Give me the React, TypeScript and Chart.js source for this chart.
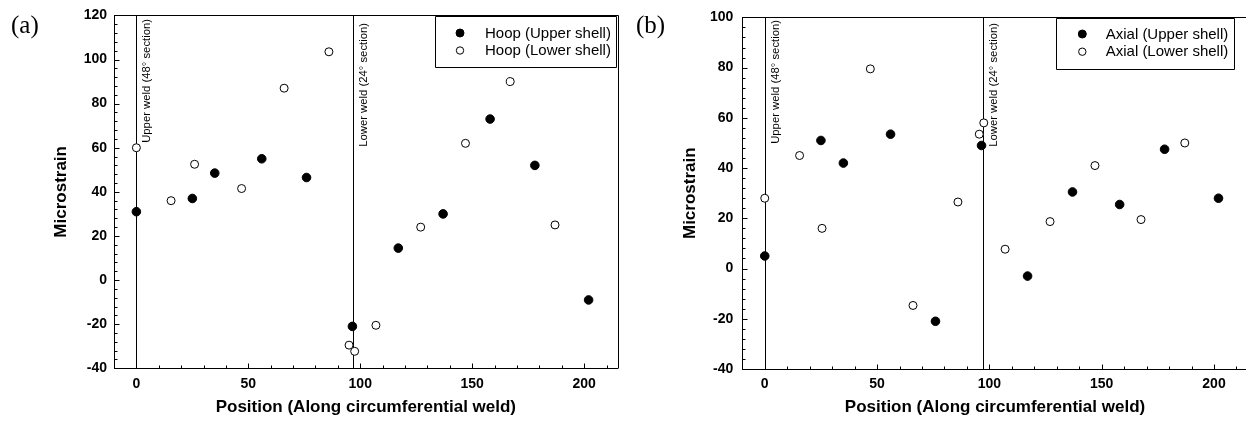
import React, { useEffect, useRef } from 'react';
import { Chart, registerables } from 'chart.js';

Chart.register(...registerables);

// ---------- Data: panel (a) Hoop ----------
const hoopUpperX = [0, 25, 35, 56, 76, 96.5, 117, 137, 158, 178, 202];
const hoopUpperY = [31, 37, 48.5, 55, 46.5, -21, 14.5, 30, 73, 52, -9];
const hoopLowerX = [0, 15.5, 26, 47, 66, 86, 95, 97.5, 107, 127, 147, 167, 187];
const hoopLowerY = [60, 36, 52.5, 41.5, 87, 103.5, -29.5, -32.3, -20.5, 24, 62, 90, 25];
const hoopLabels = ['Hoop (Upper shell)', 'Hoop (Lower shell)'];

// ---------- Data: panel (b) Axial ----------
const axialUpperX = [0, 25, 35, 56, 76, 96.5, 117, 137, 158, 178, 202];
const axialUpperY = [5, 51, 42, 53.5, -21, 49, -3, 30.5, 25.5, 47.5, 28];
const axialLowerX = [0, 15.5, 25.5, 47, 66, 86, 95.5, 97.5, 107, 127, 147, 167.5, 187];
const axialLowerY = [28, 45, 16, 79.5, -14.7, 26.5, 53.5, 58, 7.7, 18.7, 41, 19.5, 50];
const axialLabels = ['Axial (Upper shell)', 'Axial (Lower shell)'];

// ---------- Weld reference lines ----------
const weldPositionsA = [0, 96.6];
const weldPositionsB = [0, 97.2];
const weldLabels = ['Upper weld (48\u00b0 section)', 'Lower weld (24\u00b0 section)'];

// ---------- Axis ranges / ticks ----------
const xRange = [-10, 215];
const yRangeA = [-40, 120];
const yRangeB = [-40, 100];
const xTickValues = [0, 50, 100, 150, 200];
const xMajorStep = 50;
const xMinorStep = 10;
const yMajorStep = 20;
const yMinorStep = 4;

const xTitle = 'Position (Along circumferential weld)';
const yTitle = 'Microstrain';

const FONT = '"Liberation Sans", Arial, Helvetica, sans-serif';

const isMultiple = (v: number, step: number) =>
  Math.abs(v / step - Math.round(v / step)) < 1e-6;

const px = (v: number) => Math.round(v) + 0.5;

const decorPlugin = {
  id: 'decor',
  beforeDatasetsDraw(chart: any, _args: any, opts: any) {
    const { ctx, chartArea: ca, scales } = chart;
    const x = scales.x;
    ctx.save();
    ctx.strokeStyle = '#000';
    ctx.lineWidth = 1;
    (opts.welds || []).forEach((w: number, i: number) => {
      const p = px(x.getPixelForValue(w));
      ctx.beginPath();
      ctx.moveTo(p, ca.top);
      ctx.lineTo(p, ca.bottom);
      ctx.stroke();
      const label = (opts.weldLabels || [])[i];
      if (label) {
        ctx.save();
        ctx.translate(p + opts.weldLabelOffset, opts.weldLabelTops[i]);
        ctx.rotate(-Math.PI / 2);
        ctx.font = `11.3px ${FONT}`;
        ctx.fillStyle = '#000';
        ctx.textAlign = 'right';
        ctx.textBaseline = 'top';
        ctx.fillText(label, 0, 0);
        ctx.restore();
      }
    });
    ctx.restore();
  },
  afterDraw(chart: any, _args: any, opts: any) {
    const { ctx, chartArea: ca, scales } = chart;
    const x = scales.x;
    const y = scales.y;
    ctx.save();
    ctx.strokeStyle = '#000';
    ctx.lineWidth = 1;
    // frame (top + right)
    ctx.beginPath();
    ctx.moveTo(px(ca.left), px(ca.top));
    ctx.lineTo(px(ca.right), px(ca.top));
    ctx.lineTo(px(ca.right), px(ca.bottom));
    ctx.stroke();
    // inward ticks
    ctx.beginPath();
    const xb = px(ca.bottom);
    for (let v = Math.ceil(x.min / xMinorStep) * xMinorStep; v <= x.max + 1e-9; v += xMinorStep) {
      const len = isMultiple(v, xMajorStep) ? 5 : 3;
      const p = px(x.getPixelForValue(v));
      ctx.moveTo(p, xb);
      ctx.lineTo(p, xb - len);
    }
    const yl = px(ca.left);
    for (let v = Math.ceil(y.min / yMinorStep) * yMinorStep; v <= y.max + 1e-9; v += yMinorStep) {
      const len = isMultiple(v, yMajorStep) ? 5 : 3;
      const p = px(y.getPixelForValue(v));
      ctx.moveTo(yl, p);
      ctx.lineTo(yl + len, p);
    }
    ctx.stroke();

    // legend box
    const lg = opts.legend;
    if (lg) {
      ctx.beginPath();
      ctx.rect(px(lg.x), px(lg.y), Math.round(lg.w), Math.round(lg.h));
      ctx.stroke();
      chart.data.datasets.forEach((ds: any, i: number) => {
        const ry = lg.rowY[i];
        ctx.beginPath();
        ctx.arc(lg.markerX, ry, ds.pointRadius - 0.3, 0, Math.PI * 2);
        ctx.fillStyle = ds.pointBackgroundColor;
        ctx.fill();
        ctx.lineWidth = 1;
        ctx.strokeStyle = '#000';
        ctx.stroke();
        ctx.fillStyle = '#000';
        ctx.font = `15px ${FONT}`;
        ctx.textAlign = 'left';
        ctx.textBaseline = 'middle';
        ctx.fillText(ds.label, lg.textX, ry + 0.5);
      });
    }
    ctx.restore();
  },
};

interface PanelSpec {
  width: number;
  height: number;
  upperX: number[];
  upperY: number[];
  lowerX: number[];
  lowerY: number[];
  labels: string[];
  welds: number[];
  weldLabelTops: number[];
  yRange: number[];
  yAxisWidth: number;
  xAxisHeight: number;
  padRight: number;
  padTop: number;
  yTitlePad: number;
  yTickPad: number;
  xTickPad: number;
  legend: any;
}

function buildConfig(p: PanelSpec): any {
  const tickFont = { family: FONT, size: 14, weight: 'bold' as const };
  const titleFont = { family: FONT, size: 17, weight: 'bold' as const };
  return {
    type: 'scatter',
    data: {
      datasets: [
        {
          label: p.labels[0],
          data: p.upperX.map((x, i) => ({ x, y: p.upperY[i] })),
          pointRadius: 4.3,
          pointHoverRadius: 4.3,
          pointBackgroundColor: '#000000',
          pointBorderColor: '#000000',
          pointBorderWidth: 1,
        },
        {
          label: p.labels[1],
          data: p.lowerX.map((x, i) => ({ x, y: p.lowerY[i] })),
          pointRadius: 4,
          pointHoverRadius: 4,
          pointBackgroundColor: '#ffffff',
          pointBorderColor: '#000000',
          pointBorderWidth: 1,
        },
      ],
    },
    options: {
      animation: false,
      responsive: false,
      maintainAspectRatio: false,
      events: [],
      layout: { padding: { left: 0, right: p.padRight, top: p.padTop, bottom: 0 } },
      plugins: {
        legend: { display: false },
        tooltip: { enabled: false },
        decor: {
          welds: p.welds,
          weldLabels,
          weldLabelOffset: 5,
          weldLabelTops: p.weldLabelTops,
          legend: p.legend,
        },
      },
      scales: {
        x: {
          type: 'linear',
          min: xRange[0],
          max: xRange[1],
          grid: { display: false, drawTicks: false },
          border: { display: true, color: '#000', width: 1 },
          ticks: {
            font: tickFont,
            color: '#000',
            padding: p.xTickPad,
            maxRotation: 0,
            autoSkip: false,
          },
          afterBuildTicks: (s: any) => {
            s.ticks = xTickValues.map((v) => ({ value: v }));
          },
          afterFit: (s: any) => {
            s.height = p.xAxisHeight;
          },
          title: {
            display: true,
            text: xTitle,
            font: titleFont,
            color: '#000',
            padding: { top: 0, bottom: 9.5 },
          },
        },
        y: {
          type: 'linear',
          min: p.yRange[0],
          max: p.yRange[1],
          grid: { display: false, drawTicks: false },
          border: { display: true, color: '#000', width: 1 },
          ticks: {
            stepSize: yMajorStep,
            font: tickFont,
            color: '#000',
            padding: p.yTickPad,
            autoSkip: false,
          },
          afterFit: (s: any) => {
            s.width = p.yAxisWidth;
          },
          title: {
            display: true,
            text: yTitle,
            font: titleFont,
            color: '#000',
            padding: { top: p.yTitlePad, bottom: 0 },
          },
        },
      },
    },
    plugins: [decorPlugin],
  };
}

const panelA: PanelSpec = {
  width: 623,
  height: 427,
  upperX: hoopUpperX,
  upperY: hoopUpperY,
  lowerX: hoopLowerX,
  lowerY: hoopLowerY,
  labels: hoopLabels,
  welds: weldPositionsA,
  weldLabelTops: [19, 23],
  yRange: yRangeA,
  yAxisWidth: 114,
  xAxisHeight: 58.7,
  padRight: 3,
  padTop: 13,
  yTitlePad: 51.5,
  yTickPad: 7,
  xTickPad: 7.5,
  legend: { x: 435, y: 15.5, w: 181, h: 51, markerX: 460, rowY: [33, 50.5], textX: 485 },
};

const panelB: PanelSpec = {
  width: 630,
  height: 427,
  upperX: axialUpperX,
  upperY: axialUpperY,
  lowerX: axialLowerX,
  lowerY: axialLowerY,
  labels: axialLabels,
  welds: weldPositionsB,
  weldLabelTops: [20, 23],
  yRange: yRangeB,
  yAxisWidth: 119.3,
  xAxisHeight: 58,
  padRight: 4,
  padTop: 13,
  yTitlePad: 57,
  yTickPad: 9,
  xTickPad: 7,
  legend: { x: 433, y: 18.3, w: 178, h: 51, markerX: 459.3, rowY: [34, 51.7], textX: 482.7 },
};

function Panel({ spec, left }: { spec: PanelSpec; left: number }) {
  const ref = useRef<HTMLCanvasElement | null>(null);
  useEffect(() => {
    if (!ref.current) return;
    const chart = new Chart(ref.current, buildConfig(spec));
    return () => chart.destroy();
  }, [spec]);
  return (
    <canvas
      ref={ref}
      width={spec.width}
      height={spec.height}
      style={{
        position: 'absolute',
        left,
        top: 0,
        width: spec.width,
        height: spec.height,
      }}
    />
  );
}

const panelLabelStyle: React.CSSProperties = {
  position: 'absolute',
  top: 12,
  fontFamily: '"Liberation Serif", "Times New Roman", serif',
  fontSize: 25,
  lineHeight: '25px',
  color: '#000',
  whiteSpace: 'nowrap',
};

export default function App() {
  return (
    <div
      style={{
        position: 'absolute',
        left: 0,
        top: 0,
        width: 1246,
        height: 427,
        overflow: 'hidden',
        background: '#fff',
      }}
    >
      <Panel spec={panelA} left={0} />
      <Panel spec={panelB} left={623} />
      <div style={{ ...panelLabelStyle, left: 11 }}>(a)</div>
      <div style={{ ...panelLabelStyle, left: 636 }}>(b)</div>
    </div>
  );
}
